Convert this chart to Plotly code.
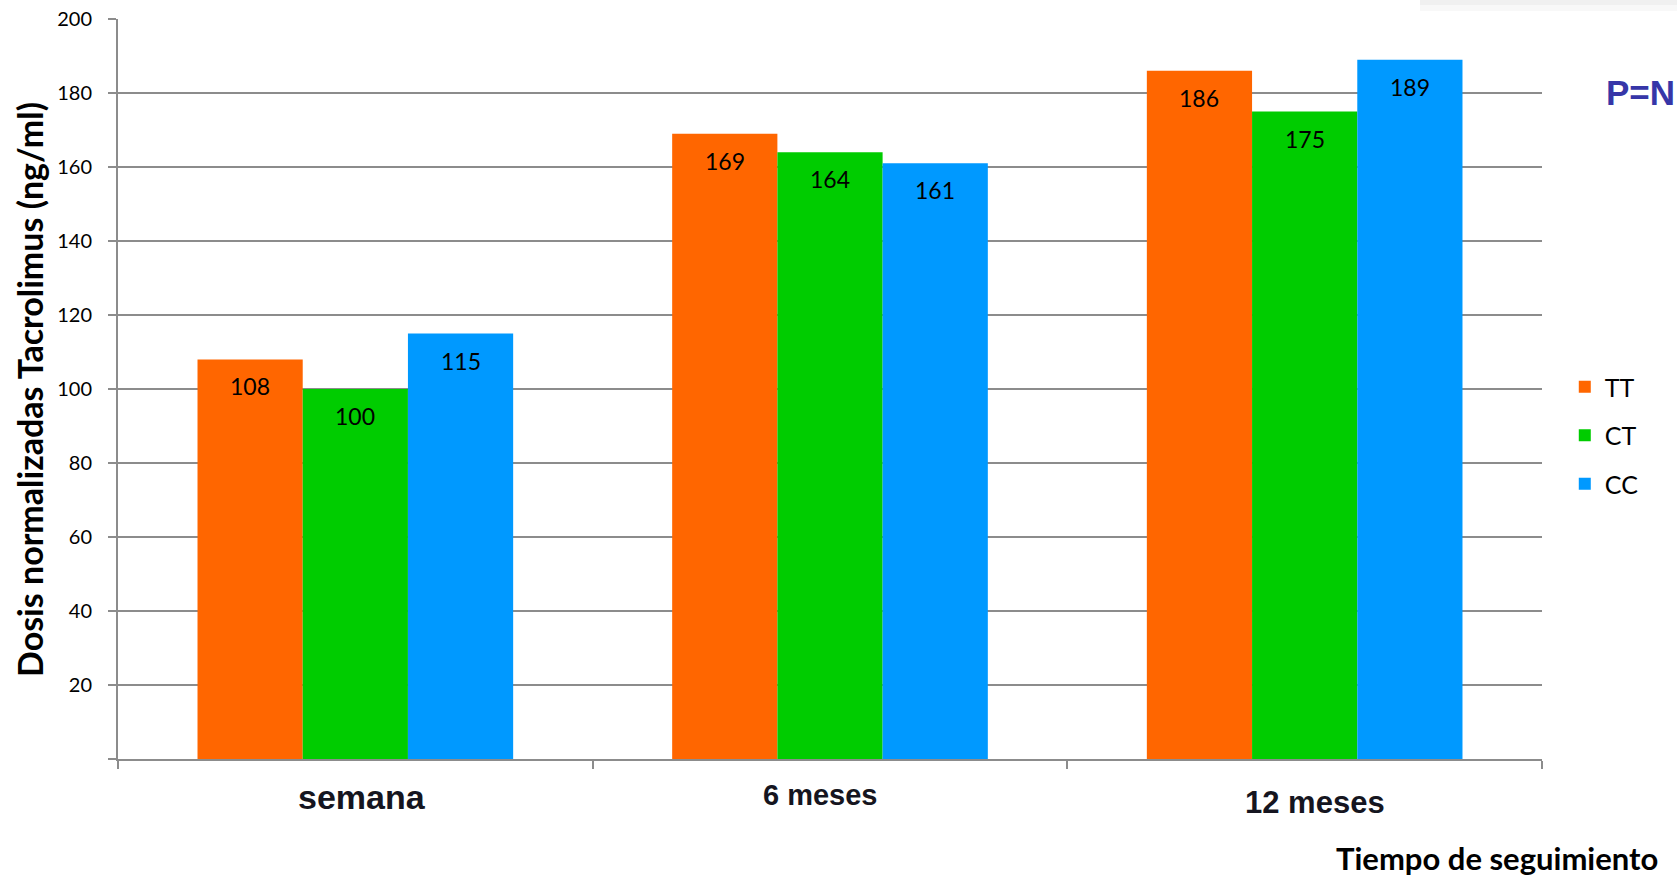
import plotly.graph_objects as go

# Follow-up periods and genotype groups
periodos = ["semana", "6 meses", "12 meses"]
genotipos = ["TT", "CT", "CC"]
valores_tt = [108, 169, 186]
valores_ct = [100, 164, 175]
valores_cc = [115, 161, 189]
serie_valores = [valores_tt, valores_ct, valores_cc]
colores = ["#FF6600", "#00CC00", "#0099FF"]

y_ticks = [20, 40, 60, 80, 100, 120, 140, 160, 180, 200]

BAR_GAP = 0.335
GRID = "#8c8c8c"

W, H = 1677, 878
L, R, T, B = 118, 135, 19, 119
pw, ph = W - L - R, H - T - B


def px_x(x):
    return (x - L) / pw


def px_y(y):
    return 1 - (y - T) / ph


fig = go.Figure()
for nombre, vals, col in zip(genotipos, serie_valores, colores):
    fig.add_trace(go.Bar(
        x=periodos, y=vals, name=nombre, legendgroup=nombre,
        marker=dict(color=col, line=dict(width=0)),
    ))

# Value labels sitting just below each bar's top edge
bar_w = (1 - BAR_GAP) / len(genotipos)
annotations = []
for j, vals in enumerate(serie_valores):
    for i, v in enumerate(vals):
        annotations.append(dict(
            x=i + (j - (len(genotipos) - 1) / 2) * bar_w, y=v,
            xref="x", yref="y", text=str(v), showarrow=False,
            yshift=-27, font=dict(family="Lato", size=23, color="#000"),
        ))

# Category labels under the axis (each with its own size/offset)
cat_style = [dict(size=34, xshift=7, yshift=-38),
             dict(size=29, xshift=-10, yshift=-36),
             dict(size=31, xshift=10, yshift=-43)]
for i, (lab, st) in enumerate(zip(periodos, cat_style)):
    annotations.append(dict(
        x=i, y=0, xref="x", yref="paper", text=f"<b>{lab}</b>", showarrow=False,
        yanchor="middle", xshift=st["xshift"], yshift=st["yshift"],
        font=dict(family="Liberation Sans", size=st["size"], color="#151520"),
    ))

# Y axis title, rotated
annotations.append(dict(
    x=px_x(29), y=px_y(390), xref="paper", yref="paper",
    text="<b>Dosis normalizadas Tacrolimus (ng/ml)</b>", textangle=-90,
    showarrow=False, xanchor="center", yanchor="middle",
    font=dict(family="Lato", size=34, color="#000"),
))
# X axis title, bottom-right
annotations.append(dict(
    x=px_x(1660), y=px_y(858), xref="paper", yref="paper",
    text="<b>Tiempo de seguimiento</b>",
    showarrow=False, xanchor="right", yanchor="middle",
    font=dict(family="Lato", size=31, color="#000"),
))
# Significance note at the right edge
annotations.append(dict(
    x=px_x(1604), y=px_y(92), xref="paper", yref="paper", text="<b>P=N</b>",
    showarrow=False, xanchor="left", yanchor="middle",
    font=dict(family="Liberation Sans", size=35, color="#3636a8"),
))

fig.update_layout(
    width=W, height=H,
    margin=dict(l=L, r=R, t=T, b=B, pad=0, autoexpand=False),
    paper_bgcolor="white", plot_bgcolor="white",
    barmode="group", bargap=BAR_GAP, bargroupgap=0,
    annotations=annotations,
    legend=dict(
        x=1.016, y=0.437, xanchor="left", yanchor="middle",
        font=dict(family="Lato", size=25, color="#000"),
        tracegroupgap=13, bgcolor="rgba(0,0,0,0)",
    ),
    shapes=[
        dict(type="rect", xref="paper", yref="paper",
             x0=px_x(1420), x1=px_x(W), y0=px_y(0), y1=px_y(5),
             fillcolor="#f0f0f0", line=dict(width=0), layer="below"),
        dict(type="rect", xref="paper", yref="paper",
             x0=px_x(1420), x1=px_x(W), y0=px_y(5), y1=px_y(11),
             fillcolor="#f8f8f8", line=dict(width=0), layer="below"),
    ],
    xaxis=dict(
        automargin=False,
        showticklabels=False, showgrid=False,
        showline=True, linecolor=GRID, linewidth=2,
        ticks="outside", tickson="boundaries", ticklen=8,
        tickcolor=GRID, tickwidth=2,
    ),
    yaxis=dict(
        automargin=False,
        range=[0, 200], tickvals=[0] + y_ticks, ticktext=[""] + [str(t) for t in y_ticks],
        showgrid=True, gridcolor=GRID, gridwidth=2,
        showline=True, linecolor=GRID, linewidth=2,
        ticks="outside", ticklen=8, tickcolor=GRID, tickwidth=2,
        ticklabelstandoff=12, zeroline=False,
        tickfont=dict(family="Lato", size=20, color="#000"),
    ),
)

fig.write_html("out.html")
